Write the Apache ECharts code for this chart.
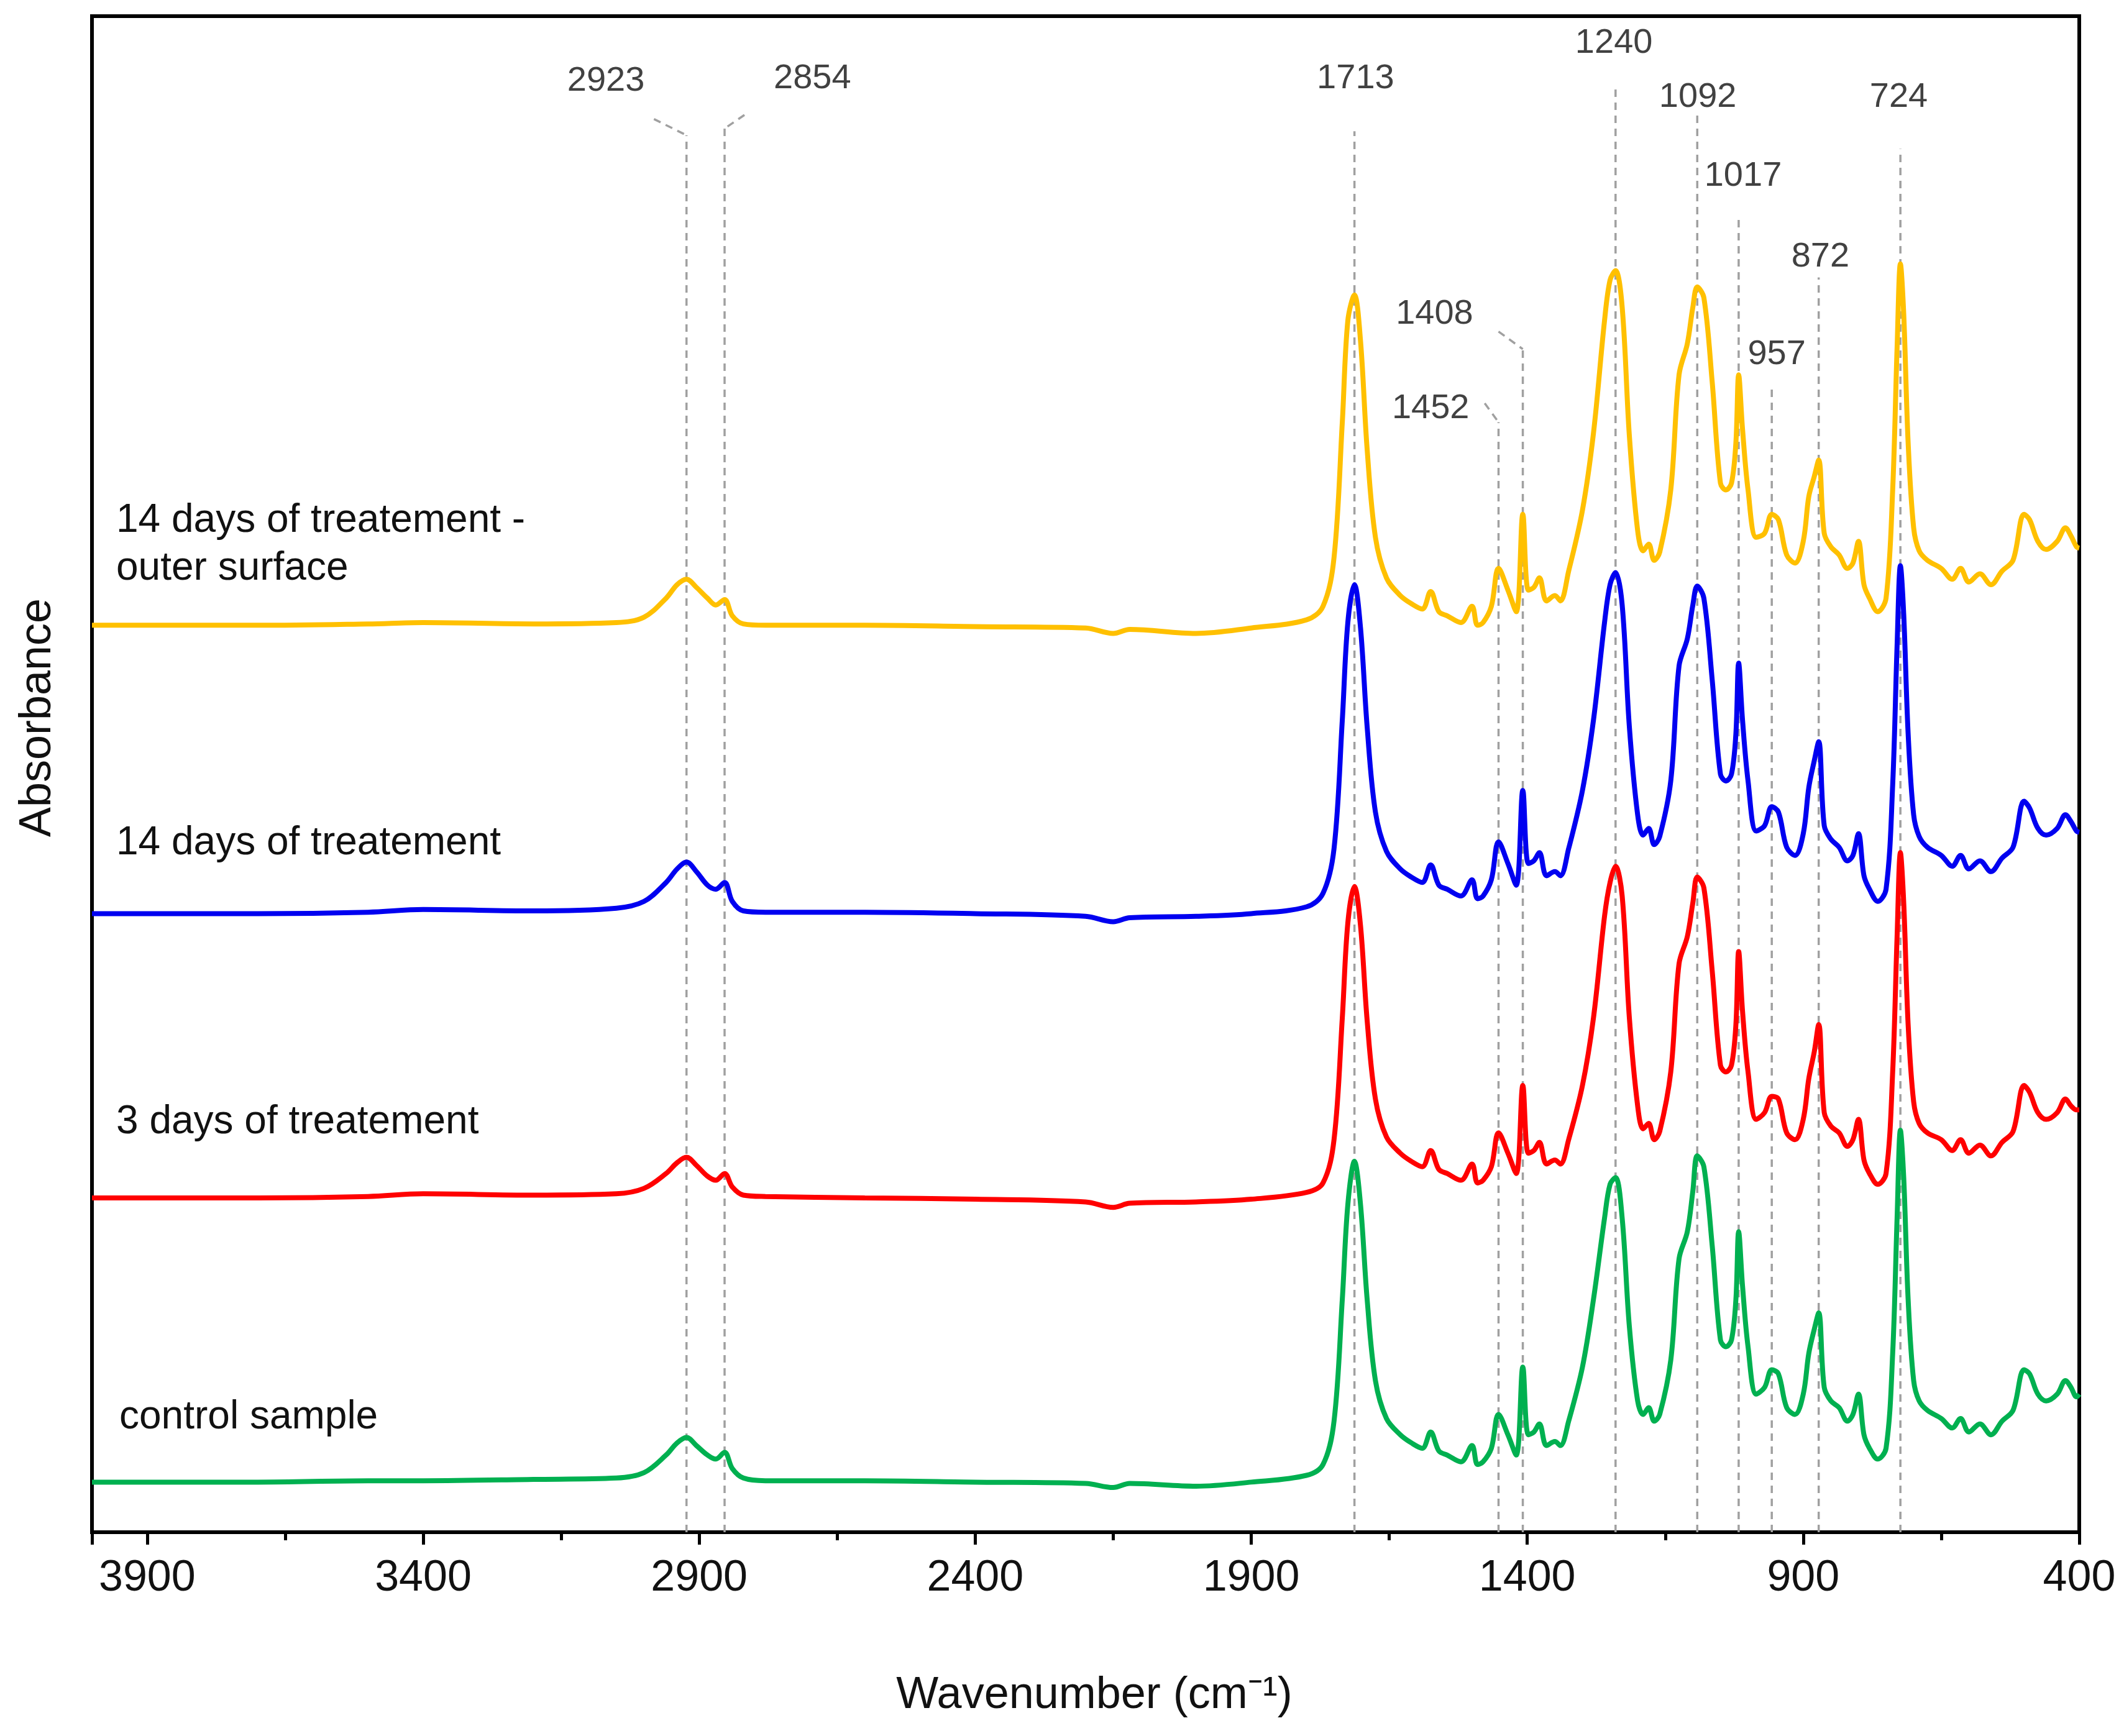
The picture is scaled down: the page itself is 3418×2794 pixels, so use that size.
<!DOCTYPE html>
<html><head><meta charset="utf-8">
<script src="https://cdn.jsdelivr.net/npm/echarts@6/dist/echarts.min.js"></script>
<style>html,body{margin:0;padding:0;background:#fff}#c{width:3418px;height:2794px}</style>
</head><body><div id="c"></div>
<script>
const wavenumbers=[4000,3700,3500,3400,3200,3050,3000,2960,2940,2923,2905,2885,2870,2854,2840,2820,2780,2600,2400,2200,2150,2120,2000,1900,1800,1770,1750,1735,1725,1713,1702,1690,1675,1655,1630,1610,1590,1575,1560,1545,1520,1500,1490,1480,1465,1452,1435,1420,1408,1398,1388,1378,1365,1350,1340,1325,1300,1280,1260,1250,1240,1228,1215,1200,1190,1180,1170,1160,1140,1125,1110,1100,1092,1080,1065,1050,1040,1030,1022,1017,1010,1000,985,970,957,945,930,915,900,890,880,872,862,850,835,820,810,800,790,780,765,750,738,730,724,718,710,700,690,675,650,630,615,600,580,560,540,520,500,490,475,460,440,425,415,405,400];
const control=[37,37,38,38,39,40,44,57,66,70,64,57,54,59,47,40,38,38,37,36,33,36,34,37,42,50,82,172,242,274,242,172,112,84,72,66,62,74,60,57,52,64,50,52,62,87,72,57,122,72,74,80,64,67,64,82,122,172,232,257,262,232,152,97,87,92,82,87,127,202,222,252,278,270,212,142,137,142,172,222,182,137,102,107,120,117,92,87,102,132,150,162,107,97,92,82,87,102,72,62,54,62,132,232,297,262,172,112,97,90,84,77,84,74,80,72,82,90,120,117,102,97,102,112,107,100,102];
const days3=[247,247,248,250,249,250,254,265,273,277,271,263,260,265,255,249,248,247,246,244,240,243,244,246,251,258,290,380,450,477,448,378,320,292,280,274,270,282,268,265,260,272,258,260,270,295,280,265,330,280,282,288,272,275,272,290,330,380,455,480,492,470,380,315,298,302,290,296,340,420,440,465,484,476,415,345,340,345,375,429,385,340,305,310,322,320,295,290,305,335,355,375,310,300,295,285,290,305,275,265,257,265,340,440,502,465,375,318,302,295,290,282,290,280,286,278,288,296,330,325,310,305,310,320,315,312,312];
const days14=[457,457,458,460,459,461,466,480,490,495,488,478,475,480,466,459,458,458,457,455,451,454,455,457,462,472,505,600,672,700,668,595,532,503,490,484,480,493,478,475,470,482,468,470,482,510,494,478,548,494,496,502,485,488,485,505,548,600,672,700,709,685,595,530,515,520,508,514,555,640,660,685,699,690,630,560,555,560,590,642,600,555,518,522,536,532,506,500,516,550,570,584,522,512,506,496,500,516,485,475,466,475,552,655,714,678,590,530,514,506,500,492,500,490,496,488,498,506,540,535,520,515,520,530,525,518,517];
const days14outer=[670,670,671,672,671,672,676,690,700,704,698,690,685,689,677,671,670,670,669,668,664,667,664,668,674,684,720,820,895,914,880,800,735,705,692,686,682,695,680,677,672,684,670,672,684,712,696,680,752,696,698,705,688,692,688,710,755,812,895,925,932,905,810,740,725,730,718,724,770,855,878,905,920,912,850,775,770,775,805,855,815,770,735,738,752,748,722,716,732,765,780,792,738,728,722,712,716,732,700,690,680,690,770,875,937,900,805,742,725,718,712,704,712,702,708,700,710,718,752,748,732,726,732,742,736,728,727];
const peakLabels=["2923","2854","1713","1452","1408","1240","1092","1017","957","872","724"];
const peakWn=[2923,2854,1713,1452,1408,1240,1092,1017,957,872,724];
const peakTop=[1032,1037,1035,820,874,1067,1047,970,847,927,1022];
const labelPos=[[3069,1072],[2695,1074],[1711,1074],[1575,830],[1568,900],[1243,1100],[1091,1060],[1009,1002],[948,870],[869,942],[727,1060]];
const leaders=[[[2982,1044],[2923,1032]],[[2818,1047],[2854,1037]],[[1452,887],[1408,874]],[[1477,834],[1452,820]]];
const seriesNames=["14 days of treatement - outer surface","14 days of treatement","3 days of treatement","control sample"];

const F="Liberation Sans, Arial, sans-serif";
const mk=(arr)=>wavenumbers.map((w,i)=>[w,arr[i]]);
const colors=['#FFC000','#0000F0','#FF0000','#00B050'];
const dataSets=[days14outer,days14,days3,control];
const series=dataSets.map((d,i)=>({name:seriesNames[i],type:'line',data:mk(d),smooth:0.35,showSymbol:false,z:3,
  lineStyle:{color:colors[i],width:8},silent:true}));
const dash={type:'line',showSymbol:false,silent:true,z:1,lineStyle:{color:'#a0a0a0',width:3.5,type:[12,9]}};
peakWn.forEach((w,i)=>series.push(Object.assign({},dash,{data:[[w,0],[w,peakTop[i]]]})));
leaders.forEach(l=>series.push(Object.assign({},dash,{data:l})));
series.push({type:'scatter',symbolSize:0,silent:true,data:labelPos.map((p,i)=>({value:p,name:peakLabels[i]})),
  label:{show:true,position:'inside',formatter:'{b}',color:'#111',fontSize:56,fontFamily:F}});

const chart=echarts.init(document.getElementById('c'));
chart.setOption({
  animation:false,
  grid:{left:148,right:72,top:26,bottom:328,show:true,borderColor:'#000',borderWidth:6,backgroundColor:'transparent'},
  xAxis:{type:'value',min:400,max:4000,interval:500,inverse:true,
    axisLine:{lineStyle:{color:'#000',width:6}},
    axisTick:{show:true,length:20,lineStyle:{width:5,color:'#000'}},
    minorTick:{show:true,splitNumber:2,length:13,lineStyle:{width:5,color:'#000'}},
    splitLine:{show:false},
    axisLabel:{fontSize:70,color:'#111',fontFamily:F,margin:40,showMinLabel:true,showMaxLabel:false,formatter:v=>String(v)}},
  yAxis:{type:'value',min:0,max:1120,axisLine:{show:true,lineStyle:{color:'#000',width:6}},axisTick:{show:false},axisLabel:{show:false},splitLine:{show:false}},
  graphic:[
    {type:'text',left:187,top:806,style:{text:'14 days of treatement -',fontSize:64,fontFamily:F,fill:'#111'}},
    {type:'text',left:187,top:883,style:{text:'outer surface',fontSize:64,fontFamily:F,fill:'#111'}},
    {type:'text',left:187,top:1325,style:{text:'14 days of treatement',fontSize:64,fontFamily:F,fill:'#111'}},
    {type:'text',left:187,top:1774,style:{text:'3 days of treatement',fontSize:64,fontFamily:F,fill:'#111'}},
    {type:'text',left:192,top:2249,style:{text:'control sample',fontSize:64,fontFamily:F,fill:'#111'}},
    {type:'text',x:1761,y:2729,style:{text:'Wavenumber (cm⁻¹)',fontSize:72,fontFamily:F,fill:'#111',textAlign:'center',textVerticalAlign:'middle'}},
    {type:'text',x:61,y:1155,rotation:Math.PI/2,style:{text:'Absorbance',fontSize:72,fontFamily:F,fill:'#111',textAlign:'center',textVerticalAlign:'middle'}}
  ],
  series:series
});
</script></body></html>
